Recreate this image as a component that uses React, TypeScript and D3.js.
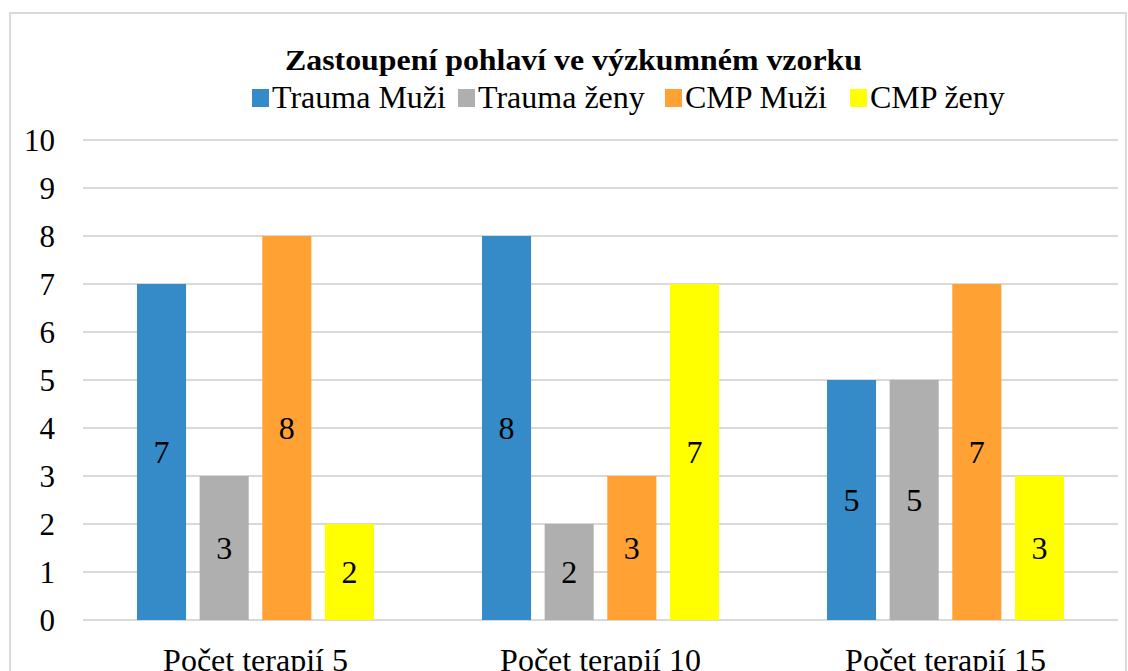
import React from "react";
import * as d3 from "d3";

const categories = ["Počet terapií 5", "Počet terapií 10", "Počet terapií 15"];
const seriesNames = ["Trauma Muži", "Trauma ženy", "CMP Muži", "CMP ženy"];
const traumaMuzi = [7, 8, 5];
const traumaZeny = [3, 2, 5];
const cmpMuzi = [8, 3, 7];
const cmpZeny = [2, 7, 3];
const yTicks = [0, 1, 2, 3, 4, 5, 6, 7, 8, 9, 10];
const colors = ["#358BC7", "#AFAFAF", "#FFA233", "#FFFF00"];
const title = "Zastoupení pohlaví ve výzkumném vzorku";

const seriesValues = [traumaMuzi, traumaZeny, cmpMuzi, cmpZeny];

const W = 1128;
const H = 671;
const FONT = "Liberation Serif, Times New Roman, Times, serif";
const ts = { fontFamily: FONT };

export default function App() {
  const plotLeft = 83;
  const plotRight = 1118;
  const y = d3.scaleLinear().domain([0, 10]).range([620, 140]);
  const x0 = d3.scaleBand<string>().domain(categories).range([plotLeft, plotRight]).padding(0);
  const gw = x0.bandwidth();
  const x1 = d3
    .scaleBand<string>()
    .domain(seriesNames)
    .range([gw * 0.1565, gw * 0.1565 + gw * 0.687])
    .paddingInner(0.217)
    .paddingOuter(0);

  const legendItems = [
    { name: seriesNames[0], sx: 252, tx: 272 },
    { name: seriesNames[1], sx: 458, tx: 478 },
    { name: seriesNames[2], sx: 665, tx: 685 },
    { name: seriesNames[3], sx: 850, tx: 870 },
  ];

  return (
    <svg
      width={W}
      height={H}
      style={{ position: "absolute", left: 0, top: 0, background: "#fff", fontFamily: FONT }}
    >
      <rect x={0} y={0} width={W} height={H} fill="#fff" />
      <rect x={10} y={13} width={1116} height={700} fill="none" stroke="#d9d9d9" strokeWidth={2} />
      <text
        x={573.5}
        y={70}
        textAnchor="middle"
        fontWeight="bold"
        fontSize={29}
        textLength={577}
        lengthAdjust="spacingAndGlyphs"
        fill="#000"
        style={ts}
      >
        {title}
      </text>
      {legendItems.map((l, i) => (
        <g key={l.name}>
          <rect x={l.sx} y={89} width={17} height={18} fill={colors[i]} />
          <text x={l.tx} y={108} fontSize={32} fill="#000" style={ts}>
            {l.name}
          </text>
        </g>
      ))}
      {yTicks.map((t) => (
        <g key={t}>
          <line x1={plotLeft} x2={plotRight} y1={y(t)} y2={y(t)} stroke="#d9d9d9" strokeWidth={2} />
          <text x={55} y={y(t)} dy="0.35em" textAnchor="end" fontSize={31} fill="#000" style={ts}>
            {t}
          </text>
        </g>
      ))}
      {categories.map((c, ci) => (
        <g key={c} transform={`translate(${x0(c)},0)`}>
          {seriesNames.map((s, si) => {
            const v = seriesValues[si][ci];
            const bx = x1(s)!;
            const bw = x1.bandwidth();
            return (
              <g key={s}>
                <rect x={bx} y={y(v)} width={bw} height={y(0) - y(v)} fill={colors[si]} />
                <text
                  x={bx + bw / 2}
                  y={(y(v) + y(0)) / 2}
                  dy="0.35em"
                  textAnchor="middle"
                  fontSize={32}
                  fill="#000"
                  style={ts}
                >
                  {v}
                </text>
              </g>
            );
          })}
          <text x={gw / 2} y={671} textAnchor="middle" fontSize={32} fill="#000" style={ts}>
            {c}
          </text>
        </g>
      ))}
    </svg>
  );
}
